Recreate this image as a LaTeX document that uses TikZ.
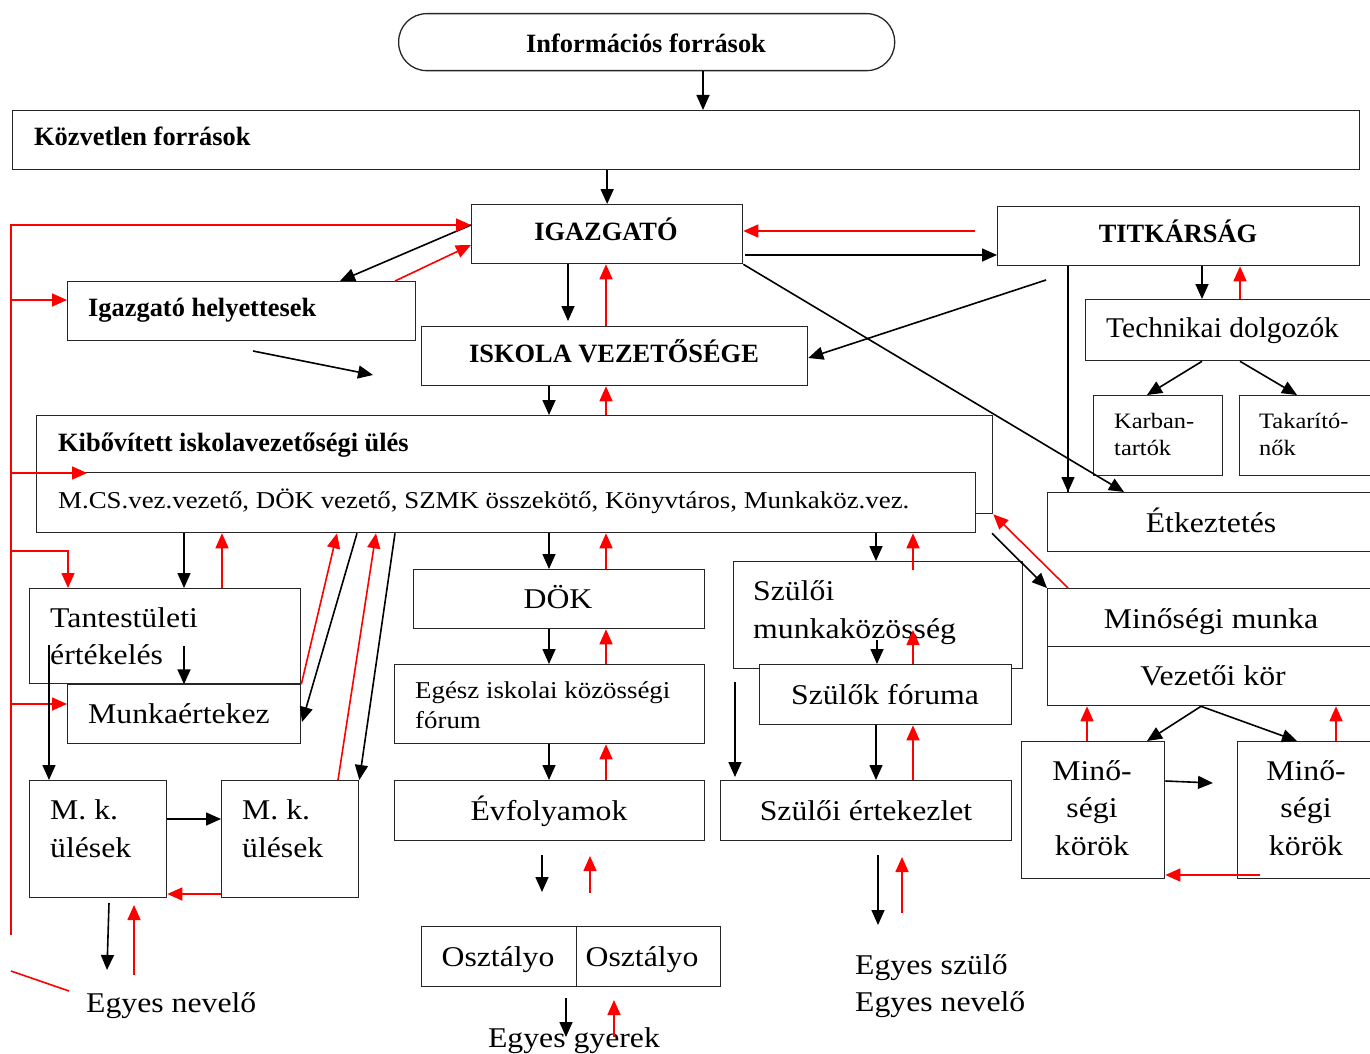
\documentclass[tikz,border=0pt]{standalone}
\usepackage{fontspec}
\setmainfont{Liberation Serif}[FakeStretch=1.11]
\newfontfamily\boldfam{Liberation Serif}[BoldFont=* Bold]
\newfontfamily\techfam{Liberation Serif}[FakeStretch=1.03]
\usetikzlibrary{arrows.meta}
\begin{document}
\begin{tikzpicture}[x=1pt,y=-1pt,
 box/.style={draw=black!85, line width=1.3pt, fill=white, inner sep=0pt, anchor=north west},
 ar/.style={line width=1.6pt, -{Triangle[length=15pt,width=13pt]}},
 bk/.style={ar, black},
 rd/.style={ar, red},
 rl/.style={line width=1.6pt, red},
 tb/.style={font=\boldfam\fontsize{26.4}{30}\selectfont\bfseries, inner sep=0pt},
 tl/.style={font=\fontsize{28.6}{34}\selectfont, inner sep=0pt},
 tt/.style={font=\techfam\fontsize{28.6}{34}\selectfont, inner sep=0pt},
 tm/.style={font=\fontsize{24.2}{29}\selectfont, inner sep=0pt},
 ts/.style={font=\fontsize{22}{26}\selectfont, inner sep=0pt},
]
\useasboundingbox (0,0) rectangle (1370,1054);
\fill[white] (0,0) rectangle (1370,1054);

% ---------- boxes ----------
\node[box, minimum width=496, minimum height=57, rounded corners=28] (info) at (398,13) {};
\node[box, minimum width=1347, minimum height=59] (kozv) at (12,110) {};
\node[box, minimum width=271, minimum height=59] (igaz) at (471,204) {};
\node[box, minimum width=362, minimum height=59] (titk) at (997,206) {};
\node[box, minimum width=348, minimum height=59] (helyt) at (67,281) {};
\node[box, minimum width=386, minimum height=59] (iskv) at (421,326) {};
\node[box, minimum width=956, minimum height=98] (kibo) at (36,415) {};
\node[box, minimum width=939, minimum height=60] (mcs) at (36,472) {};
\node[box, minimum width=295, minimum height=61] (tech) at (1085,299) {};
\node[box, minimum width=129, minimum height=80] (karb) at (1093,395) {};
\node[box, minimum width=140, minimum height=80] (taka) at (1239,395) {};
\node[box, minimum width=333, minimum height=59] (etk) at (1047,492) {};
\node[box, minimum width=333, minimum height=58] (minm) at (1047,588) {};
\node[box, minimum width=333, minimum height=59] (vezk) at (1047,646) {};
\node[box, minimum width=143, minimum height=137] (mka) at (1021,741) {};
\node[box, minimum width=143, minimum height=137] (mkb) at (1237,741) {};
\node[box, minimum width=271, minimum height=95] (tant) at (29,588) {};
\node[box, minimum width=233, minimum height=59] (munk) at (67,684) {};
\node[box, minimum width=137, minimum height=117] (msl) at (29,780) {};
\node[box, minimum width=137, minimum height=117] (msr) at (221,780) {};
\node[box, minimum width=291, minimum height=59] (dok) at (413,569) {};
\node[box, minimum width=310, minimum height=79] (egesz) at (394,664) {};
\node[box, minimum width=310, minimum height=60] (evf) at (394,780) {};
\node[box, minimum width=155, minimum height=60] (osza) at (421,926) {};
\node[box, minimum width=144, minimum height=60] (oszb) at (576,926) {};
\node[box, minimum width=289, minimum height=107] (szmk) at (733,561) {};
\node[box, minimum width=252, minimum height=60] (szfor) at (759,664) {};
\node[box, minimum width=291, minimum height=60] (szert) at (720,780) {};

% ---------- texts ----------
\node[tb, anchor=base] (t-info) at (646,53) {Információs források};
\node[tb, anchor=base west] (t-kozv) at (34,146) {Közvetlen források};
\node[tb, anchor=base] (t-igaz) at (606,240) {IGAZGATÓ};
\node[tb, anchor=base] (t-titk) at (1178,242) {TITKÁRSÁG};
\node[tb, anchor=base west] (t-helyt) at (88,316) {Igazgató helyettesek};
\node[tb, anchor=base] (t-iskv) at (614,362) {ISKOLA VEZETŐSÉGE};
\node[tb, anchor=base west] (t-kibo) at (58,451) {Kibővített iskolavezetőségi ülés};
\node[tm, anchor=base west] (t-mcs) at (58,508) {M.CS.vez.vezető, DÖK vezető, SZMK összekötő, Könyvtáros, Munkaköz.vez.};
\node[tt, anchor=base west] (t-tech) at (1106,337) {Technikai dolgozók};
\node[ts, anchor=base west] (t-karb1) at (1114,428) {Karban-};
\node[ts, anchor=base west] (t-karb2) at (1114,455) {tartók};
\node[ts, anchor=base west] (t-taka1) at (1259,428) {Takarító-};
\node[ts, anchor=base west] (t-taka2) at (1259,455) {nők};
\node[tl, anchor=base] (t-etk) at (1211,532) {Étkeztetés};
\node[tl, anchor=base] (t-minm) at (1211,628) {Minőségi munka};
\node[tl, anchor=base] (t-vezk) at (1213,685) {Vezetői kör};
\node[tl, anchor=base] (t-mka1) at (1092,780) {Minő-};
\node[tl, anchor=base] (t-mka2) at (1092,817) {ségi};
\node[tl, anchor=base] (t-mka3) at (1092,855) {körök};
\node[tl, anchor=base] (t-mkb1) at (1306,780) {Minő-};
\node[tl, anchor=base] (t-mkb2) at (1306,817) {ségi};
\node[tl, anchor=base] (t-mkb3) at (1306,855) {körök};
\node[tl, anchor=base west] (t-tant1) at (50,627) {Tantestületi};
\node[tl, anchor=base west] (t-tant2) at (50,664) {értékelés};
\node[tl, anchor=base west] (t-munk) at (88,723) {Munkaértekez};
\node[tl, anchor=base west] (t-msl1) at (50,819) {M. k.};
\node[tl, anchor=base west] (t-msl2) at (50,857) {ülések};
\node[tl, anchor=base west] (t-msr1) at (242,819) {M. k.};
\node[tl, anchor=base west] (t-msr2) at (242,857) {ülések};
\node[tl, anchor=base west] (t-nev) at (86,1012) {Egyes nevelő};
\node[tl, anchor=base] (t-dok) at (558,608) {DÖK};
\node[tm, anchor=base west] (t-egesz1) at (415,698) {Egész iskolai közösségi};
\node[tm, anchor=base west] (t-egesz2) at (415,728) {fórum};
\node[tl, anchor=base] (t-evf) at (549,820) {Évfolyamok};
\node[tl, anchor=base] (t-osza) at (498,966) {Osztályo};
\node[tl, anchor=base] (t-oszb) at (642,966) {Osztályo};
\node[tl, anchor=base] (t-gyer) at (574,1047) {Egyes gyerek};
\node[tl, anchor=base west] (t-szmk1) at (753,600) {Szülői};
\node[tl, anchor=base west] (t-szmk2) at (753,638) {munkaközösség};
\node[tl, anchor=base] (t-szfor) at (885,704) {Szülők fóruma};
\node[tl, anchor=base] (t-szert) at (866,820) {Szülői értekezlet};
\node[tl, anchor=base west] (t-szulo) at (855,974) {Egyes szülő};
\node[tl, anchor=base west] (t-nev2) at (855,1011) {Egyes nevelő};

% ---------- free ends ----------
\coordinate (c-titkfree) at (975,231);
\coordinate (c-igfree) at (745,255);
\coordinate (c-h1) at (253,351);
\coordinate (c-h2) at (373,375);
\coordinate (c-tk) at (1046,280);
\coordinate (c-kibarrow) at (87,473);
\coordinate (c-tin1) at (184,646);
\coordinate (c-tin2) at (49,645);
\coordinate (c-mk) at (1213,783);
\coordinate (c-mkr) at (1260,875);

% ---------- connectors ----------
\draw[bk] (703,0 |- info.south) -- (703,0 |- kozv.north);
\draw[bk] (kozv.south -| igaz.north) -- (igaz.north);
\draw[rd] (c-titkfree) -- (igaz.east |- c-titkfree);
\draw[bk] (c-igfree) -- (titk.west |- c-igfree);
\draw[bk] (igaz.west |- 0,225) -- (340,0 |- helyt.north);
\draw[rd] (395,0 |- helyt.north) -- (igaz.west |- 0,245);
\draw[bk] (c-h1) -- (c-h2);
\draw[bk] (568,0 |- igaz.south) -- (568,321);
\draw[rd] (606,0 |- iskv.north) -- (606,0 |- igaz.south);
\draw[bk] (549,0 |- iskv.south) -- (549,0 |- kibo.north);
\draw[rd] (606,0 |- kibo.north) -- (606,0 |- iskv.south);
\draw[bk] (c-tk) -- (iskv.east |- 0,358);
\draw[bk] (igaz.south east) -- (1124,0 |- etk.north);
\draw[line width=1.6pt] (1068,0 |- titk.south) -- (1068,0 |- etk.north);
\draw[bk] (1068,470) -- (1068,0 |- etk.north);
\draw[bk] (1202,0 |- titk.south) -- (1202,0 |- tech.north);
\draw[rd] (1240,0 |- tech.north) -- (1240,0 |- titk.south);
\draw[bk] (1202,0 |- tech.south) -- (1147,0 |- karb.north);
\draw[bk] (1240,0 |- tech.south) -- (1297,0 |- taka.north);

% red bus on the left
\draw[rd] (11,935) -- (11,225) -- (igaz.west |- 0,225);
\draw[rd] (11,300) -- (helyt.west |- 0,300);
\draw[rd] (11,473) -- (c-kibarrow);
\draw[rd] (11,551) -| (68,0 |- tant.north);
\draw[rd] (11,704) -- (munk.west |- 0,704);
\draw[rl] (11,971) -- (69,991);

% right side
\draw[bk] (992,0 |- mcs.south) -- (minm.north west);
\draw[rd] (1068,0 |- minm.north) -- (kibo.south east);
\draw[bk] (1201,0 |- vezk.south) -- (1147,0 |- mka.north);
\draw[bk] (1201,0 |- vezk.south) -- (1297,0 |- mkb.north);
\draw[rd] (1087,0 |- mka.north) -- (1087,0 |- vezk.south);
\draw[rd] (1336,0 |- mkb.north) -- (1336,0 |- vezk.south);
\draw[bk] (mka.east |- 0,781) -- (c-mk);
\draw[rd] (c-mkr) -- (mka.east |- c-mkr);

% left column
\draw[bk] (184,0 |- mcs.south) -- (184,0 |- tant.north);
\draw[rd] (222,0 |- tant.north) -- (222,0 |- mcs.south);
\draw[bk] (c-tin1) -- (184,0 |- tant.south);
\draw[bk] (c-tin2) -- (49,0 |- msl.north);
\draw[rd] (tant.south east) -- (337,0 |- mcs.south);
\draw[bk] (357,0 |- mcs.south) -- (302,722);
\draw[rd] (338,0 |- msr.north) -- (376,0 |- mcs.south);
\draw[bk] (395,0 |- mcs.south) -- (msr.north east);
\draw[bk] (msl.east |- 0,819) -- (msr.west |- 0,819);
\draw[rd] (msr.west |- 0,894) -- (msl.east |- 0,894);
\draw[bk] (109,903) -- (107,970);
\draw[rd] (134,975) -- (134,905);

% middle column
\draw[bk] (549,0 |- mcs.south) -- (549,0 |- dok.north);
\draw[rd] (606,0 |- dok.north) -- (606,0 |- mcs.south);
\draw[bk] (549,0 |- dok.south) -- (549,0 |- egesz.north);
\draw[rd] (606,0 |- egesz.north) -- (606,0 |- dok.south);
\draw[bk] (549,0 |- egesz.south) -- (549,0 |- evf.north);
\draw[rd] (606,0 |- evf.north) -- (606,0 |- egesz.south);
\draw[bk] (542,855) -- (542,892);
\draw[rd] (590,893) -- (590,856);
\draw[bk] (566,998) -- (566,1037);
\draw[rd] (614,1037) -- (614,1000);

% parents column
\draw[bk] (876,0 |- mcs.south) -- (876,0 |- szmk.north);
\draw[rd] (913,570) -- (913,0 |- mcs.south);
\draw[bk] (877,640) -- (877,0 |- szfor.north);
\draw[rd] (913,0 |- szfor.north) -- (913,630);
\draw[bk] (735,682) -- (735,777);
\draw[bk] (876,0 |- szfor.south) -- (876,0 |- szert.north);
\draw[rd] (913,0 |- szert.north) -- (913,0 |- szfor.south);
\draw[bk] (878,855) -- (878,925);
\draw[rd] (902,913) -- (902,857);
\end{tikzpicture}
\end{document}
